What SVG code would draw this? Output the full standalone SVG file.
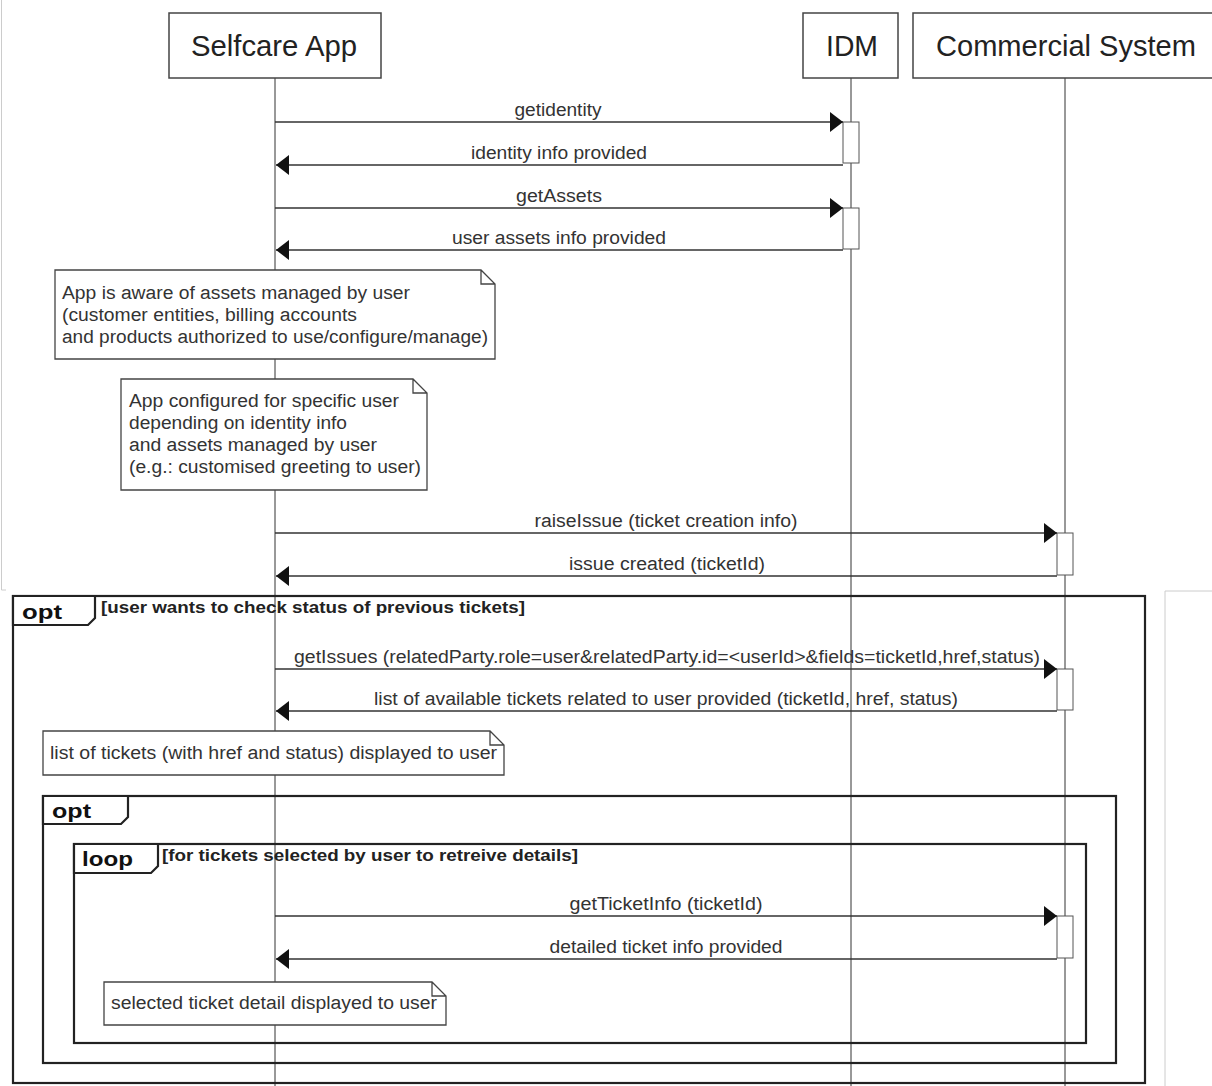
<svg xmlns="http://www.w3.org/2000/svg" width="1212" height="1086" viewBox="0 0 1212 1086">
<style>
  text { font-family: "Liberation Sans", Arial, sans-serif; fill: #333; }
  .pname { font-size: 29px; text-anchor: middle; fill: #222; }
  .lbl { font-size: 18px; text-anchor: middle; }
  .ntxt { font-size: 18px; }
  .ftag { font-size: 21px; font-weight: bold; fill: #111; }
  .guard { font-size: 16px; font-weight: bold; fill: #222; }
  .box { fill: #fff; stroke: #444; stroke-width: 1.5; }
  .life { stroke: #333; stroke-width: 1; }
  .msg { stroke: #333; stroke-width: 1.5; fill: none; }
  .act { fill: #fff; stroke: #555; stroke-width: 1; }
  .note { fill: #fff; stroke: #444; stroke-width: 1.3; }
  .frag { fill: none; stroke: #222; stroke-width: 2.2; }
  .tab { fill: #fff; stroke: #222; stroke-width: 2.2; }
  .art { stroke: #ccc; stroke-width: 1; fill: none; }
</style>
<defs>
  <marker id="ah" markerUnits="userSpaceOnUse" markerWidth="14" markerHeight="22" refX="13" refY="10" orient="auto">
    <path d="M0,0 L13,10 L0,20 Z" fill="#111"/>
  </marker>
</defs>
<rect width="1212" height="1086" fill="#fff"/>
<!-- screenshot artifacts -->
<path class="art" d="M1.5,0 V590 H6"/>
<path class="art" d="M1212,591 H1165 V1086"/>

<g id="lifelines">
  <line class="life" x1="275" y1="78" x2="275" y2="1086"/>
  <line class="life" x1="851" y1="78" x2="851" y2="1086"/>
  <line class="life" x1="1065" y1="78" x2="1065" y2="1086"/>
</g>

<g id="participant-selfcare">
  <rect class="box" x="169" y="13" width="212" height="65"/>
  <text class="pname" x="274" y="56" textLength="166" lengthAdjust="spacingAndGlyphs">Selfcare App</text>
</g>
<g id="participant-idm">
  <rect class="box" x="803" y="13" width="95" height="65"/>
  <text class="pname" x="852" y="56" textLength="52" lengthAdjust="spacingAndGlyphs">IDM</text>
</g>
<g id="participant-commercial">
  <rect class="box" x="913" y="13" width="302" height="65"/>
  <text class="pname" x="1066" y="56" textLength="260" lengthAdjust="spacingAndGlyphs">Commercial System</text>
</g>

<g id="fragment-opt-outer">
  <rect class="frag" x="13" y="596" width="1132" height="487"/>
  <path class="tab" d="M13,596 H95 V618 L88,625 H13 Z"/>
  <text class="ftag" x="22" y="619" textLength="40" lengthAdjust="spacingAndGlyphs">opt</text>
  <text class="guard" x="101" y="613" textLength="424" lengthAdjust="spacingAndGlyphs">[user wants to check status of previous tickets]</text>
</g>
<g id="fragment-opt-inner">
  <rect class="frag" x="43" y="796" width="1073" height="267"/>
  <path class="tab" d="M43,796 H128 V817 L121,824 H43 Z"/>
  <text class="ftag" x="52" y="818" textLength="39" lengthAdjust="spacingAndGlyphs">opt</text>
</g>
<g id="fragment-loop">
  <rect class="frag" x="74" y="844" width="1012" height="199"/>
  <path class="tab" d="M74,844 H158 V866 L151,873 H74 Z"/>
  <text class="ftag" x="82" y="866" textLength="51" lengthAdjust="spacingAndGlyphs">loop</text>
  <text class="guard" x="162" y="861" textLength="416" lengthAdjust="spacingAndGlyphs">[for tickets selected by user to retreive details]</text>
</g>

<g id="activations">
  <rect class="act" x="843" y="122" width="16" height="41"/>
  <rect class="act" x="843" y="208" width="16" height="41"/>
  <rect class="act" x="1057" y="533" width="16" height="42"/>
  <rect class="act" x="1057" y="669" width="16" height="41"/>
  <rect class="act" x="1057" y="916" width="16" height="42"/>
</g>

<g id="connectors">
  <line class="msg" x1="275" y1="122" x2="843" y2="122" marker-end="url(#ah)"/>
  <text class="lbl" x="558" y="116" textLength="87" lengthAdjust="spacingAndGlyphs">getidentity</text>
  <line class="msg" x1="843" y1="165" x2="276" y2="165" marker-end="url(#ah)"/>
  <text class="lbl" x="559" y="159" textLength="176" lengthAdjust="spacingAndGlyphs">identity info provided</text>
  <line class="msg" x1="275" y1="208" x2="843" y2="208" marker-end="url(#ah)"/>
  <text class="lbl" x="559" y="202" textLength="86" lengthAdjust="spacingAndGlyphs">getAssets</text>
  <line class="msg" x1="843" y1="250" x2="276" y2="250" marker-end="url(#ah)"/>
  <text class="lbl" x="559" y="244" textLength="214" lengthAdjust="spacingAndGlyphs">user assets info provided</text>

  <line class="msg" x1="275" y1="533" x2="1057" y2="533" marker-end="url(#ah)"/>
  <text class="lbl" x="666" y="527" textLength="263" lengthAdjust="spacingAndGlyphs">raiseIssue (ticket creation info)</text>
  <line class="msg" x1="1057" y1="576" x2="276" y2="576" marker-end="url(#ah)"/>
  <text class="lbl" x="667" y="570" textLength="196" lengthAdjust="spacingAndGlyphs">issue created (ticketId)</text>

  <line class="msg" x1="275" y1="669" x2="1057" y2="669" marker-end="url(#ah)"/>
  <text class="lbl" x="667" y="663" textLength="746" lengthAdjust="spacingAndGlyphs">getIssues (relatedParty.role=user&amp;relatedParty.id=&lt;userId&gt;&amp;fields=ticketId,href,status)</text>
  <line class="msg" x1="1057" y1="711" x2="276" y2="711" marker-end="url(#ah)"/>
  <text class="lbl" x="666" y="705" textLength="584" lengthAdjust="spacingAndGlyphs">list of available tickets related to user provided (ticketId, href, status)</text>

  <line class="msg" x1="275" y1="916" x2="1057" y2="916" marker-end="url(#ah)"/>
  <text class="lbl" x="666" y="910" textLength="193" lengthAdjust="spacingAndGlyphs">getTicketInfo (ticketId)</text>
  <line class="msg" x1="1057" y1="959" x2="276" y2="959" marker-end="url(#ah)"/>
  <text class="lbl" x="666" y="953" textLength="233" lengthAdjust="spacingAndGlyphs">detailed ticket info provided</text>
</g>

<g id="note-assets">
  <path class="note" d="M55,270 H481 L495,284 V359 H55 Z M481,270 V284 H495"/>
  <text class="ntxt" x="62" y="299" textLength="348" lengthAdjust="spacingAndGlyphs">App is aware of assets managed by user</text>
  <text class="ntxt" x="62" y="321" textLength="295" lengthAdjust="spacingAndGlyphs">(customer entities, billing accounts</text>
  <text class="ntxt" x="62" y="343" textLength="426" lengthAdjust="spacingAndGlyphs">and products authorized to use/configure/manage)</text>
</g>
<g id="note-configured">
  <path class="note" d="M121,379 H413 L427,393 V490 H121 Z M413,379 V393 H427"/>
  <text class="ntxt" x="129" y="407" textLength="270" lengthAdjust="spacingAndGlyphs">App configured for specific user</text>
  <text class="ntxt" x="129" y="429" textLength="218" lengthAdjust="spacingAndGlyphs">depending on identity info</text>
  <text class="ntxt" x="129" y="451" textLength="248" lengthAdjust="spacingAndGlyphs">and assets managed by user</text>
  <text class="ntxt" x="129" y="473" textLength="292" lengthAdjust="spacingAndGlyphs">(e.g.: customised greeting to user)</text>
</g>
<g id="note-list">
  <path class="note" d="M43,731 H490 L504,745 V775 H43 Z M490,731 V745 H504"/>
  <text class="ntxt" x="50" y="759" textLength="447" lengthAdjust="spacingAndGlyphs">list of tickets (with href and status) displayed to user</text>
</g>
<g id="note-detail">
  <path class="note" d="M104,982 H432 L446,996 V1025 H104 Z M432,982 V996 H446"/>
  <text class="ntxt" x="111" y="1009" textLength="326" lengthAdjust="spacingAndGlyphs">selected ticket detail displayed to user</text>
</g>
</svg>
